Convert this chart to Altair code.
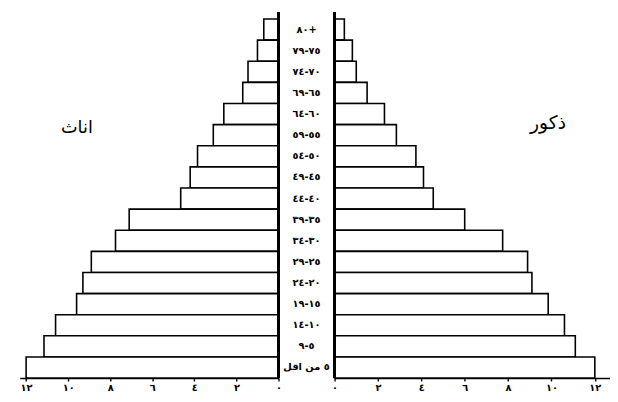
import altair as alt
import pandas as pd

# Age groups, top (oldest) to bottom (youngest); logical order, Arabic-Indic digits
ages = ["٨٠+", "٧٥-٧٩", "٧٠-٧٤", "٦٥-٦٩", "٦٠-٦٤", "٥٥-٥٩", "٥٠-٥٤", "٤٥-٤٩",
        "٤٠-٤٤", "٣٥-٣٩", "٣٠-٣٤", "٢٥-٢٩", "٢٠-٢٤", "١٥-١٩", "١٠-١٤", "٥-٩",
        "\u200eاقل\u200e \u200eمن\u200e ٥"]
female = [0.7, 1.0, 1.45, 1.7, 2.6, 3.1, 3.85, 4.2, 4.65, 7.1, 7.75, 8.9, 9.3, 9.6, 10.6, 11.15, 12.0]
male = [0.45, 0.82, 1.0, 1.5, 2.3, 2.85, 3.75, 4.1, 4.55, 6.0, 7.75, 8.9, 9.1, 9.85, 10.6, 11.1, 12.0]

tick_values = [0, 2, 4, 6, 8, 10, 12]
tick_labels = ["٠", "٢", "٤", "٦", "٨", "١٠", "١٢"]
title_left = "اناث"
title_right = "ذكور"

FONT = "DejaVu Sans"
df = pd.DataFrame({"age": ages, "female": female, "male": male})

label_expr = " : ".join(f"datum.value == {v} ? '{t}'" for v, t in zip(tick_values, tick_labels)) + " : ''"

H = 365
band = alt.Scale(paddingInner=0, paddingOuter=0)
yenc = alt.Y("age:N", sort=ages, axis=None, scale=band)


def axis():
    return alt.Axis(values=tick_values, labelExpr=label_expr, grid=False,
                    domainColor="black", domainWidth=1.6, tickColor="black",
                    tickWidth=1.4, tickSize=3, labelPadding=2, labelFont=FONT,
                    labelFontSize=10, labelFontWeight="bold", labelColor="black",
                    labelFlush=False)


base = alt.Chart(df)

left_bars = base.mark_bar(fill="white", stroke="black", strokeWidth=1.6).encode(
    x=alt.X("female:Q", title=None,
            scale=alt.Scale(domain=[0, 12.3], reverse=True, nice=False), axis=axis()),
    y=yenc,
)
left_rule = base.mark_rule(color="black", strokeWidth=1.8).encode(
    x=alt.datum(0), y=alt.value(-7), y2=alt.value(H)
)
left_title = alt.Chart(pd.DataFrame({"t": [title_left]})).mark_text(
    font=FONT, fontSize=18, color="black"
).encode(text="t:N", x=alt.value(58), y=alt.value(111))
left = alt.layer(left_bars, left_rule, left_title).properties(width=263, height=H)

center = base.mark_text(font=FONT, fontSize=10, fontWeight="bold", color="black").encode(
    y=yenc, x=alt.value(22.5), text="age:N"
).properties(width=45, height=H)

right_bars = base.mark_bar(fill="white", stroke="black", strokeWidth=1.6).encode(
    x=alt.X("male:Q", title=None,
            scale=alt.Scale(domain=[0, 12.7], nice=False), axis=axis()),
    y=yenc,
)
right_rule = base.mark_rule(color="black", strokeWidth=1.8).encode(
    x=alt.datum(0), y=alt.value(-7), y2=alt.value(H)
)
right_title = alt.Chart(pd.DataFrame({"t": [title_right]})).mark_text(
    font=FONT, fontSize=19, color="black"
).encode(text="t:N", x=alt.value(217), y=alt.value(106))
right = alt.layer(right_bars, right_rule, right_title).properties(width=280, height=H)

chart = alt.hconcat(left, center, right, spacing=0).properties(
    padding={"left": 12, "top": 0, "right": 0, "bottom": 0}
).configure_view(strokeWidth=0).resolve_scale(y="independent")

chart.save("out.html", embed_options={"renderer": "svg", "actions": False})
